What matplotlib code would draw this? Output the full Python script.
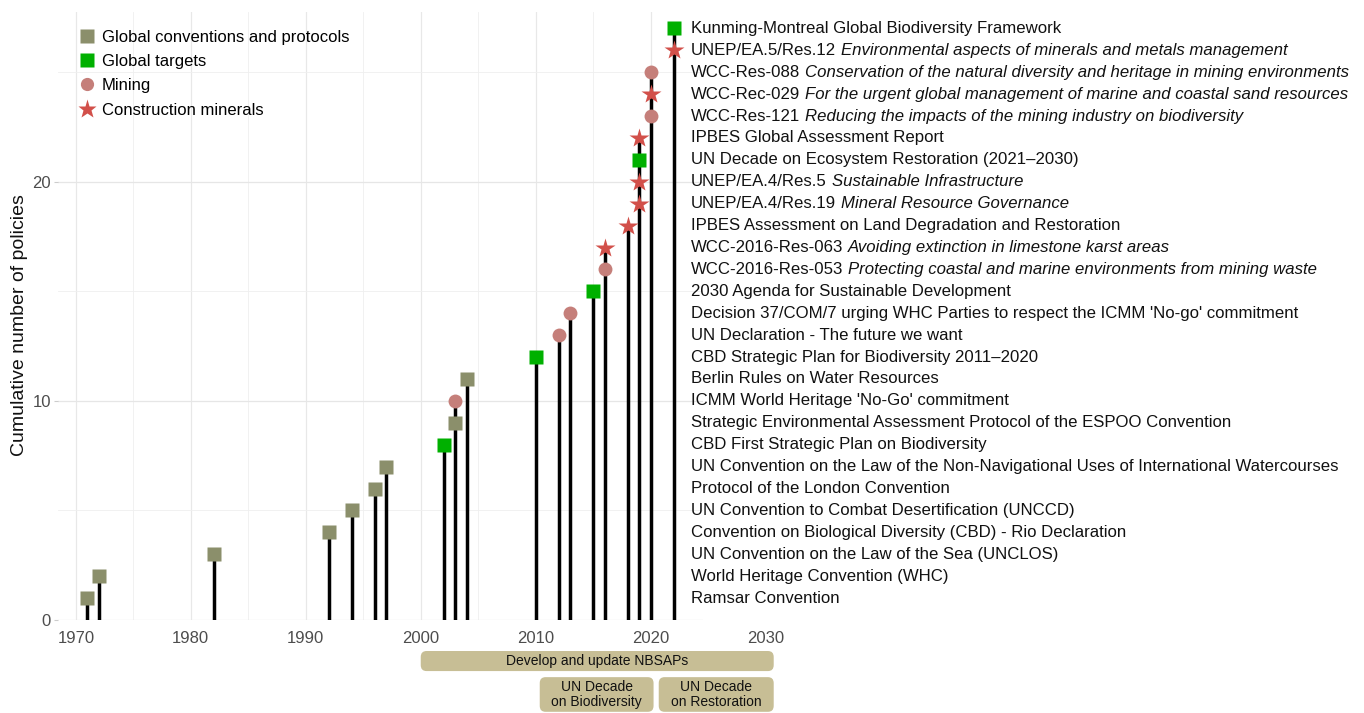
import matplotlib
matplotlib.use("Agg")
import matplotlib.pyplot as plt
import matplotlib.transforms as mtransforms
from matplotlib.patches import FancyBboxPatch
from matplotlib.lines import Line2D
import pandas as pd

plt.rcParams['font.family'] = ['Liberation Sans', 'DejaVu Sans']

# ---- data ----
years = [1971, 1972, 1982, 1992, 1994, 1996, 1997, 2002, 2003, 2003, 2004,
         2010, 2012, 2013, 2015, 2016, 2016, 2018, 2019, 2019, 2019, 2019,
         2020, 2020, 2020, 2022, 2022]
categories = ["conv", "conv", "conv", "conv", "conv", "conv", "conv", "target",
              "conv", "mining", "conv", "target", "mining", "mining", "target",
              "mining", "constr", "constr", "constr", "constr", "target", "constr",
              "mining", "constr", "mining", "constr", "target"]
names = [
    "Ramsar Convention",
    "World Heritage Convention (WHC)",
    "UN Convention on the Law of the Sea (UNCLOS)",
    "Convention on Biological Diversity (CBD) - Rio Declaration",
    "UN Convention to Combat Desertification (UNCCD)",
    "Protocol of the London Convention",
    "UN Convention on the Law of the Non-Navigational Uses of International Watercourses",
    "CBD First Strategic Plan on Biodiversity",
    "Strategic Environmental Assessment Protocol of the ESPOO Convention",
    "ICMM World Heritage 'No-Go' commitment",
    "Berlin Rules on Water Resources",
    "CBD Strategic Plan for Biodiversity 2011\u20132020",
    "UN Declaration - The future we want",
    "Decision 37/COM/7 urging WHC Parties to respect the ICMM 'No-go' commitment",
    "2030 Agenda for Sustainable Development",
    "WCC-2016-Res-053",
    "WCC-2016-Res-063",
    "IPBES Assessment on Land Degradation and Restoration",
    "UNEP/EA.4/Res.19",
    "UNEP/EA.4/Res.5",
    "UN Decade on Ecosystem Restoration (2021\u20132030)",
    "IPBES Global Assessment Report",
    "WCC-Res-121",
    "WCC-Rec-029",
    "WCC-Res-088",
    "UNEP/EA.5/Res.12",
    "Kunming-Montreal Global Biodiversity Framework",
]
subtitles = [""] * 15 + [
    "Protecting coastal and marine environments from mining waste",
    "Avoiding extinction in limestone karst areas",
    "",
    "Mineral Resource Governance",
    "Sustainable Infrastructure",
    "",
    "",
    "Reducing the impacts of the mining industry on biodiversity",
    "For the urgent global management of marine and coastal sand resources",
    "Conservation of the natural diversity and heritage in mining environments",
    "Environmental aspects of minerals and metals management",
    "",
]

period_labels = ["Develop and update NBSAPs", "UN Decade\non Biodiversity", "UN Decade\non Restoration"]
period_start = [2000, 2010.35, 2020.7]
period_end = [2030.7, 2020.25, 2030.7]
period_row = [0, 1, 1]

df = pd.DataFrame({"year": years, "cat": categories, "name": names, "sub": subtitles})
df["count"] = range(1, len(df) + 1)

styles = {
    "conv": dict(marker="s", color="#8b8f6b", ms=10, label="Global conventions and protocols"),
    "target": dict(marker="s", color="#00b000", ms=10, label="Global targets"),
    "mining": dict(marker="o", color="#c57f7a", ms=10, label="Mining"),
    "constr": dict(marker="*", color="#d2504a", ms=15, label="Construction minerals"),
}

fig = plt.figure(figsize=(13.64, 7.13), dpi=100)
ax = fig.add_axes([58 / 1364, 93 / 713, 645 / 1364, 608 / 713])
ax.set_xlim(1968.45, 2024.55)
ax.set_ylim(0, 27.75)

# grid
for x in range(1975, 2025, 10):
    ax.axvline(x, color="#efefef", lw=0.6, zorder=0)
for x in range(1970, 2030, 10):
    ax.axvline(x, color="#e8e8e8", lw=0.9, zorder=0)
for y in [5, 15, 25]:
    ax.axhline(y, color="#efefef", lw=0.6, zorder=0)
for y in [0, 10, 20]:
    ax.axhline(y, color="#e6e6e6", lw=0.9, zorder=0)

# stems
tops = df.groupby("year")["count"].max()
ax.vlines(tops.index, 0, tops.values, color="black", lw=2.5, zorder=2)

# markers
for cat, st in styles.items():
    d = df[df["cat"] == cat]
    ax.plot(d["year"], d["count"], linestyle="none", marker=st["marker"],
            color=st["color"], ms=st["ms"], mec="none", zorder=3)

# labels on the right
for _, r in df.iterrows():
    t = ax.text(2023.5, r["count"], r["name"], fontsize=12.1, va="center", ha="left",
                color="#111111", clip_on=False)
    if r["sub"]:
        ax.annotate(r["sub"], xy=(1, 0), xycoords=t, xytext=(3.6, 0),
                    textcoords="offset points", va="bottom", ha="left",
                    fontsize=12.1, style="italic", color="#111111")

for s in ax.spines.values():
    s.set_visible(False)
ax.set_xticks(range(1970, 2030, 10))
ax.set_yticks([0, 10, 20])
ax.tick_params(axis="x", length=0, labelsize=12, labelcolor="#4d4d4d", pad=8)
ax.tick_params(axis="y", length=3, color="#cccccc", labelsize=12, labelcolor="#4d4d4d", pad=2)
ax.annotate("2030", xy=(2030, 0), xycoords=ax.get_xaxis_transform(), xytext=(0, -8),
            textcoords="offset points", ha="center", va="top",
            fontsize=12, color="#4d4d4d", annotation_clip=False)
ax.set_ylabel("Cumulative number of policies", fontsize=14, color="#111111")
ax.yaxis.set_label_coords(-0.047, 0.485)

# legend
handles = [Line2D([], [], linestyle="none", marker=st["marker"], color=st["color"],
                  ms=st["ms"] * 0.95, mec="none") for st in styles.values()]
ax.legend(handles, [st["label"] for st in styles.values()], loc="upper left",
          bbox_to_anchor=(0.011, 0.993), frameon=False, fontsize=12,
          handlelength=1.0, handletextpad=0.42, labelspacing=0.56, borderpad=0.3)

# period boxes below the axis
trans = mtransforms.blended_transform_factory(ax.transData, ax.transAxes)
px = 1 / 608
row_y = [(-0.051, -0.084), (-0.094, -0.151)]
for lab, x0, x1, row in zip(period_labels, period_start, period_end, period_row):
    y_top, y_bot = row_y[row]
    box = FancyBboxPatch((x0, y_bot), x1 - x0, y_top - y_bot,
                         boxstyle="round,pad=0,rounding_size=0.5",
                         mutation_aspect=(6 * px) / 0.5,
                         transform=trans, facecolor="#c7be95", edgecolor="none",
                         clip_on=False, zorder=1)
    ax.add_patch(box)
    ax.text((x0 + x1) / 2, (y_top + y_bot) / 2, lab, transform=trans, ha="center",
            va="center", fontsize=10, color="#111111", linespacing=1.12, clip_on=False)

fig.savefig("out.png", dpi=100)
